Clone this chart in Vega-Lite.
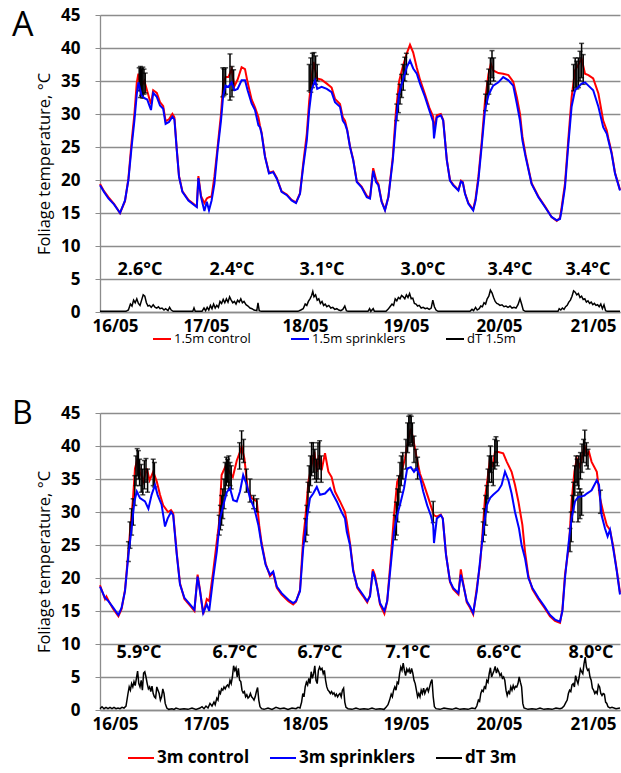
{
"$schema": "https://vega.github.io/schema/vega-lite/v6.json",
"padding": {"left": 12, "top": 6, "right": 0, "bottom": 30},
"config": {"view": {"stroke": null}, "font": "Open Sans", "axisY": {"labelOverlap": false, "tickCount": 10}},
"spacing": 52,
"resolve": {"scale": {"color": "independent"}, "legend": {"color": "independent"}},
"datasets": {
"ac": [{"t":0,"v":19.4},{"t":1,"v":18.3},{"t":2.1,"v":17.4},{"t":3.5,"v":16.4},{"t":5,"v":15.0},{"t":6.25,"v":16.8},{"t":7.1,"v":20.2},{"t":7.9,"v":25.8},{"t":8.6,"v":30},{"t":9.2,"v":34.8},{"t":9.6,"v":36.1},{"t":10.0,"v":34.5},{"t":10.4,"v":34.3},{"t":11.1,"v":35.0},{"t":11.8,"v":33.5},{"t":12.4,"v":32.2},{"t":12.75,"v":31.5},{"t":13.3,"v":33.6},{"t":14.2,"v":33.2},{"t":15,"v":31.8},{"t":15.8,"v":31.2},{"t":16.4,"v":28.9},{"t":17.25,"v":29.2},{"t":18.1,"v":30},{"t":18.6,"v":29.5},{"t":19.2,"v":24.6},{"t":19.75,"v":20.6},{"t":20.6,"v":18.3},{"t":22.1,"v":17},{"t":23.75,"v":16.2},{"t":24.2,"v":16.0},{"t":24.6,"v":20.6},{"t":25.25,"v":17.6},{"t":26.1,"v":16.5},{"t":26.7,"v":17.2},{"t":27.25,"v":17.4},{"t":27.9,"v":17.5},{"t":28.6,"v":20.5},{"t":29.4,"v":25},{"t":30.25,"v":30},{"t":30.8,"v":34.6},{"t":31.4,"v":35.6},{"t":32.1,"v":35.6},{"t":32.9,"v":36.8},{"t":33.6,"v":34.2},{"t":34.4,"v":35.2},{"t":35.4,"v":37.1},{"t":36.25,"v":36.8},{"t":36.9,"v":34.8},{"t":37.9,"v":32.2},{"t":38.75,"v":31},{"t":39.6,"v":29.5},{"t":40.0,"v":28.2},{"t":40.4,"v":27.2},{"t":41.25,"v":23.6},{"t":42.25,"v":21.1},{"t":43.3,"v":21.3},{"t":44.2,"v":20.3},{"t":45.4,"v":18.3},{"t":46.7,"v":17.8},{"t":47.9,"v":17.0},{"t":49,"v":16.6},{"t":50,"v":18},{"t":50.8,"v":22.5},{"t":51.7,"v":27},{"t":52.3,"v":32},{"t":52.9,"v":35.5},{"t":53.4,"v":37.9},{"t":53.75,"v":36.8},{"t":54.3,"v":35.4},{"t":55.4,"v":35.2},{"t":56.7,"v":34.6},{"t":57.9,"v":34},{"t":58.75,"v":32.3},{"t":60,"v":31.5},{"t":60.7,"v":29.5},{"t":61.25,"v":29},{"t":61.8,"v":27.6},{"t":62.5,"v":25.1},{"t":63.3,"v":23.1},{"t":64.2,"v":19.8},{"t":65.4,"v":19},{"t":66.7,"v":17.6},{"t":67.5,"v":17.3},{"t":68.3,"v":21.8},{"t":69,"v":20.1},{"t":69.6,"v":19.4},{"t":70.4,"v":16.8},{"t":71.25,"v":15.5},{"t":72.1,"v":17.5},{"t":73.2,"v":23.5},{"t":74,"v":30.5},{"t":74.8,"v":35},{"t":75.7,"v":37.2},{"t":76.7,"v":39.2},{"t":77.5,"v":40.5},{"t":78.3,"v":39.3},{"t":79.2,"v":37},{"t":80,"v":35.2},{"t":81.25,"v":33},{"t":82.3,"v":31},{"t":83.3,"v":29.6},{"t":83.5,"v":27.5},{"t":84.2,"v":29.8},{"t":85.2,"v":30},{"t":85.8,"v":29.1},{"t":86.7,"v":23.1},{"t":87.5,"v":20},{"t":88.3,"v":19.3},{"t":89.6,"v":18.5},{"t":90.25,"v":19.9},{"t":90.7,"v":19.7},{"t":91.25,"v":18},{"t":92.1,"v":16.5},{"t":93.3,"v":15.5},{"t":93.9,"v":17.2},{"t":94.6,"v":20.5},{"t":95.4,"v":25.6},{"t":96.25,"v":32},{"t":97.1,"v":36},{"t":97.7,"v":37.6},{"t":98.3,"v":36.6},{"t":99.6,"v":36.2},{"t":100.8,"v":36.1},{"t":102.1,"v":35.9},{"t":103.3,"v":34.9},{"t":104.2,"v":32.6},{"t":105,"v":30},{"t":105.6,"v":26.6},{"t":106.4,"v":23.8},{"t":107.9,"v":19.5},{"t":109.6,"v":17.5},{"t":111.25,"v":16},{"t":112.9,"v":14.4},{"t":114.2,"v":13.8},{"t":115,"v":14.3},{"t":115.4,"v":15.8},{"t":116.25,"v":19.5},{"t":117.1,"v":26.3},{"t":117.9,"v":32.5},{"t":118.75,"v":36.6},{"t":119.6,"v":37.5},{"t":120.4,"v":38.4},{"t":121.25,"v":36.1},{"t":122.1,"v":35.9},{"t":123.3,"v":35.4},{"t":124.6,"v":33.1},{"t":125.8,"v":29},{"t":126.7,"v":27.5},{"t":127.1,"v":26.3},{"t":127.9,"v":24.2},{"t":128.75,"v":21.1},{"t":130,"v":18.5}],
"as": [{"t":0,"v":19.2},{"t":1,"v":18.2},{"t":2.1,"v":17.2},{"t":3.5,"v":16.3},{"t":5,"v":15.0},{"t":6.25,"v":16.9},{"t":7.1,"v":20},{"t":7.9,"v":25},{"t":8.6,"v":29},{"t":9.2,"v":33},{"t":9.6,"v":34.8},{"t":10.4,"v":32.8},{"t":11.1,"v":32.4},{"t":11.8,"v":32.2},{"t":12.4,"v":31.2},{"t":12.75,"v":30.6},{"t":13.3,"v":33.2},{"t":14.2,"v":32.6},{"t":15,"v":31.3},{"t":15.8,"v":30.8},{"t":16.4,"v":28.5},{"t":17.25,"v":28.8},{"t":18.1,"v":29.6},{"t":18.6,"v":29.2},{"t":19.2,"v":24.5},{"t":19.75,"v":20.5},{"t":20.6,"v":18.2},{"t":22.1,"v":16.9},{"t":23.75,"v":16.1},{"t":24.2,"v":15.9},{"t":24.6,"v":20.3},{"t":25.25,"v":17.4},{"t":26.1,"v":15.3},{"t":26.7,"v":16.7},{"t":27.25,"v":15.4},{"t":27.9,"v":16.9},{"t":28.6,"v":19.4},{"t":29.4,"v":24.5},{"t":30.25,"v":29},{"t":30.8,"v":32.8},{"t":31.4,"v":34.3},{"t":32.1,"v":34.1},{"t":32.9,"v":34.8},{"t":33.6,"v":33.6},{"t":34.4,"v":33.8},{"t":35.4,"v":35.1},{"t":36.25,"v":35.1},{"t":36.9,"v":33.6},{"t":37.9,"v":31.6},{"t":38.75,"v":30.6},{"t":39.6,"v":28.3},{"t":40.0,"v":28},{"t":40.4,"v":27},{"t":41.25,"v":23.5},{"t":42.25,"v":21},{"t":43.3,"v":21.2},{"t":44.2,"v":20.2},{"t":45.4,"v":18.2},{"t":46.7,"v":17.7},{"t":47.9,"v":16.9},{"t":49,"v":16.5},{"t":50,"v":17.9},{"t":50.8,"v":22},{"t":51.7,"v":26},{"t":52.3,"v":30.6},{"t":52.9,"v":33.6},{"t":53.4,"v":34.5},{"t":53.75,"v":35.1},{"t":54.3,"v":33.8},{"t":55.4,"v":34.1},{"t":56.7,"v":33.8},{"t":57.9,"v":33.3},{"t":58.75,"v":31.8},{"t":60,"v":31.1},{"t":60.7,"v":29},{"t":61.25,"v":28.5},{"t":61.8,"v":27.5},{"t":62.5,"v":25},{"t":63.3,"v":23},{"t":64.2,"v":19.7},{"t":65.4,"v":18.9},{"t":66.7,"v":17.4},{"t":67.5,"v":17.2},{"t":68.3,"v":21.4},{"t":69,"v":19.7},{"t":69.6,"v":19.2},{"t":70.4,"v":16.7},{"t":71.25,"v":15.4},{"t":72.1,"v":17.4},{"t":73.2,"v":23},{"t":74,"v":29},{"t":74.8,"v":33.1},{"t":75.7,"v":35.1},{"t":76.7,"v":37.1},{"t":77.5,"v":38.1},{"t":78.3,"v":36.9},{"t":79.2,"v":36.1},{"t":80,"v":34.6},{"t":81.25,"v":32.6},{"t":82.3,"v":30.6},{"t":83.3,"v":28.8},{"t":83.5,"v":26.3},{"t":84.2,"v":29.5},{"t":85.2,"v":29.8},{"t":85.8,"v":29},{"t":86.7,"v":23},{"t":87.5,"v":19.9},{"t":88.3,"v":19.2},{"t":89.6,"v":18.4},{"t":90.25,"v":19.8},{"t":90.7,"v":19.6},{"t":91.25,"v":17.9},{"t":92.1,"v":16.4},{"t":93.3,"v":15.4},{"t":93.9,"v":16.9},{"t":94.6,"v":20},{"t":95.4,"v":25},{"t":96.25,"v":30.6},{"t":97.1,"v":32.8},{"t":97.7,"v":33.6},{"t":98.3,"v":34.3},{"t":99.6,"v":34.8},{"t":100.8,"v":35.6},{"t":102.1,"v":35.1},{"t":103.3,"v":34.3},{"t":104.2,"v":31.6},{"t":105,"v":29},{"t":105.6,"v":26},{"t":106.4,"v":23.5},{"t":107.9,"v":19.4},{"t":109.6,"v":17.4},{"t":111.25,"v":15.9},{"t":112.9,"v":14.4},{"t":114.2,"v":13.9},{"t":115,"v":14.1},{"t":115.4,"v":15.4},{"t":116.25,"v":18.9},{"t":117.1,"v":25.5},{"t":117.9,"v":31.1},{"t":118.75,"v":33.6},{"t":119.6,"v":34.1},{"t":120.4,"v":34.6},{"t":121.25,"v":34.8},{"t":122.1,"v":34.3},{"t":123.3,"v":33.6},{"t":124.6,"v":31.1},{"t":125.8,"v":28},{"t":126.7,"v":27},{"t":127.1,"v":26},{"t":127.9,"v":24},{"t":128.75,"v":21},{"t":130,"v":18.4}],
"ad": [{"t":0,"v":0.1},{"t":5,"v":0.1},{"t":6.5,"v":0.1},{"t":7.1,"v":0.3},{"t":7.6,"v":1.2},{"t":8.0,"v":0.9},{"t":8.4,"v":1.8},{"t":8.8,"v":1.4},{"t":9.2,"v":2.0},{"t":9.6,"v":1.3},{"t":10.0,"v":1.0},{"t":10.4,"v":1.8},{"t":10.8,"v":2.6},{"t":11.2,"v":2.4},{"t":11.6,"v":1.4},{"t":12.0,"v":0.9},{"t":12.4,"v":1.0},{"t":12.8,"v":0.7},{"t":13.3,"v":1.1},{"t":13.8,"v":0.7},{"t":14.2,"v":0.6},{"t":14.6,"v":0.8},{"t":15.0,"v":0.5},{"t":15.5,"v":0.6},{"t":16.0,"v":0.3},{"t":16.4,"v":0.5},{"t":17.0,"v":0.2},{"t":17.4,"v":0.7},{"t":17.8,"v":0.3},{"t":18.3,"v":0.1},{"t":23.2,"v":0.1},{"t":23.5,"v":0.6},{"t":23.8,"v":0.1},{"t":25.5,"v":0.1},{"t":26,"v":0.6},{"t":26.4,"v":0.2},{"t":26.8,"v":0.7},{"t":27.2,"v":0.3},{"t":27.6,"v":1.0},{"t":28,"v":0.5},{"t":28.4,"v":1.2},{"t":28.8,"v":0.6},{"t":29.2,"v":1.0},{"t":29.6,"v":0.7},{"t":30.0,"v":1.6},{"t":30.4,"v":1.3},{"t":30.8,"v":1.9},{"t":31.2,"v":1.4},{"t":31.6,"v":2.0},{"t":32.0,"v":1.5},{"t":32.4,"v":2.3},{"t":32.8,"v":1.8},{"t":33.2,"v":1.4},{"t":33.6,"v":1.6},{"t":34.0,"v":1.2},{"t":34.4,"v":1.8},{"t":34.8,"v":1.5},{"t":35.2,"v":2.0},{"t":35.6,"v":1.4},{"t":36.0,"v":1.6},{"t":36.5,"v":1.1},{"t":37.0,"v":0.9},{"t":37.5,"v":0.6},{"t":38.0,"v":0.5},{"t":38.5,"v":0.3},{"t":39.2,"v":0.2},{"t":39.5,"v":1.4},{"t":39.8,"v":0.2},{"t":40.3,"v":0.1},{"t":49.5,"v":0.1},{"t":50.2,"v":0.3},{"t":50.8,"v":0.5},{"t":51.3,"v":1.2},{"t":51.7,"v":1.0},{"t":52.1,"v":1.6},{"t":52.5,"v":2.0},{"t":52.9,"v":2.5},{"t":53.2,"v":3.1},{"t":53.5,"v":2.3},{"t":53.9,"v":2.6},{"t":54.3,"v":1.8},{"t":54.7,"v":2.0},{"t":55.1,"v":1.3},{"t":55.5,"v":1.6},{"t":55.9,"v":1.0},{"t":56.3,"v":1.2},{"t":56.7,"v":0.8},{"t":57.2,"v":1.0},{"t":57.7,"v":0.6},{"t":58.2,"v":0.7},{"t":58.7,"v":0.4},{"t":59.2,"v":0.5},{"t":59.7,"v":0.3},{"t":60.2,"v":0.2},{"t":60.7,"v":0.4},{"t":61.2,"v":0.9},{"t":61.6,"v":0.2},{"t":62,"v":0.1},{"t":67,"v":0.1},{"t":67.4,"v":0.5},{"t":67.7,"v":0.1},{"t":68.3,"v":0.5},{"t":68.6,"v":0.1},{"t":71.5,"v":0.1},{"t":72,"v":0.4},{"t":72.5,"v":0.8},{"t":73,"v":1.2},{"t":73.4,"v":1.0},{"t":73.8,"v":2.0},{"t":74.2,"v":1.7},{"t":74.6,"v":2.2},{"t":75.0,"v":2.0},{"t":75.4,"v":2.5},{"t":75.8,"v":2.3},{"t":76.2,"v":2.0},{"t":76.6,"v":2.6},{"t":77.0,"v":2.2},{"t":77.4,"v":2.8},{"t":77.8,"v":2.0},{"t":78.2,"v":2.1},{"t":78.6,"v":1.3},{"t":79.0,"v":1.2},{"t":79.4,"v":0.9},{"t":79.8,"v":1.0},{"t":80.3,"v":0.6},{"t":80.8,"v":0.7},{"t":81.3,"v":0.5},{"t":81.8,"v":0.6},{"t":82.3,"v":0.4},{"t":82.8,"v":0.6},{"t":83.2,"v":1.8},{"t":83.6,"v":0.8},{"t":84,"v":0.3},{"t":84.5,"v":0.1},{"t":92.5,"v":0.1},{"t":93,"v":0.4},{"t":93.4,"v":0.2},{"t":93.9,"v":0.7},{"t":94.3,"v":0.3},{"t":94.8,"v":0.5},{"t":95.2,"v":0.9},{"t":95.6,"v":0.8},{"t":96.0,"v":1.4},{"t":96.4,"v":1.2},{"t":96.8,"v":2.0},{"t":97.2,"v":2.4},{"t":97.6,"v":3.3},{"t":98.0,"v":2.9},{"t":98.4,"v":2.2},{"t":98.8,"v":1.6},{"t":99.2,"v":1.3},{"t":99.6,"v":1.2},{"t":100,"v":1.0},{"t":100.5,"v":1.1},{"t":101,"v":0.8},{"t":101.5,"v":0.9},{"t":102,"v":0.7},{"t":102.5,"v":0.9},{"t":103,"v":0.6},{"t":103.5,"v":0.7},{"t":104,"v":0.6},{"t":104.5,"v":1.1},{"t":105,"v":2.0},{"t":105.4,"v":1.2},{"t":105.8,"v":0.3},{"t":106.3,"v":0.1},{"t":114.5,"v":0.1},{"t":114.8,"v":0.5},{"t":115.2,"v":0.3},{"t":115.6,"v":0.6},{"t":116,"v":0.4},{"t":116.4,"v":0.8},{"t":116.8,"v":1.0},{"t":117.2,"v":1.5},{"t":117.6,"v":1.8},{"t":118,"v":2.4},{"t":118.4,"v":3.2},{"t":118.8,"v":3.0},{"t":119.2,"v":2.6},{"t":119.6,"v":2.8},{"t":120,"v":2.2},{"t":120.4,"v":2.4},{"t":120.8,"v":1.9},{"t":121.2,"v":2.0},{"t":121.6,"v":1.5},{"t":122,"v":1.7},{"t":122.4,"v":1.3},{"t":122.8,"v":1.5},{"t":123.2,"v":1.1},{"t":123.6,"v":1.3},{"t":124,"v":1.0},{"t":124.4,"v":1.1},{"t":124.8,"v":0.8},{"t":125.2,"v":1.2},{"t":125.6,"v":0.5},{"t":126,"v":1.1},{"t":126.4,"v":0.2},{"t":126.8,"v":0.1},{"t":130,"v":0.1}],
"ae": [{"t":9.8,"lo":33.5,"hi":37.0},{"t":10.1,"lo":32.5,"hi":37.2},{"t":10.4,"lo":32.8,"hi":36.9},{"t":10.7,"lo":32.4,"hi":37.1},{"t":11.0,"lo":33.0,"hi":36.8},{"t":11.3,"lo":33.2,"hi":36.2},{"t":30.7,"lo":32.6,"hi":37.0},{"t":31.0,"lo":32.8,"hi":36.8},{"t":31.4,"lo":33.0,"hi":37.0},{"t":32.5,"lo":32.1,"hi":39.1},{"t":33.0,"lo":32.6,"hi":37.2},{"t":33.4,"lo":33.6,"hi":36.7},{"t":52.3,"lo":33.5,"hi":37.5},{"t":52.7,"lo":33.3,"hi":38.5},{"t":53.1,"lo":34.0,"hi":39.2},{"t":53.5,"lo":35.0,"hi":39.3},{"t":53.9,"lo":34.5,"hi":38.8},{"t":54.3,"lo":35.0,"hi":37.5},{"t":74.2,"lo":29.0,"hi":31.5},{"t":74.6,"lo":30.2,"hi":33.0},{"t":75.0,"lo":31.5,"hi":34.5},{"t":75.4,"lo":32.5,"hi":36.0},{"t":75.8,"lo":33.6,"hi":37.5},{"t":76.2,"lo":35.0,"hi":38.6},{"t":76.6,"lo":36.0,"hi":39.2},{"t":96.4,"lo":30.5,"hi":33.0},{"t":96.8,"lo":31.5,"hi":35.0},{"t":97.2,"lo":33.0,"hi":36.8},{"t":97.6,"lo":34.5,"hi":38.5},{"t":98.0,"lo":35.5,"hi":39.6},{"t":98.4,"lo":35.0,"hi":38.5},{"t":118.4,"lo":33.5,"hi":37.5},{"t":118.8,"lo":34.0,"hi":38.5},{"t":119.2,"lo":33.8,"hi":38.0},{"t":119.6,"lo":34.0,"hi":38.5},{"t":120.0,"lo":35.0,"hi":39.5},{"t":120.4,"lo":35.5,"hi":40.7},{"t":120.8,"lo":34.5,"hi":39.0}],
"an": [{"t":10,"v":6.3,"l":"2.6°C"},{"t":33,"v":6.3,"l":"2.4°C"},{"t":55.5,"v":6.3,"l":"3.1°C"},{"t":80.75,"v":6.3,"l":"3.0°C"},{"t":102.5,"v":6.3,"l":"3.4°C"},{"t":122,"v":6.3,"l":"3.4°C"}],
"bc": [{"t":0,"v":18.9},{"t":1.25,"v":16.8},{"t":1.6,"v":17.2},{"t":2.1,"v":16.6},{"t":3.3,"v":15.3},{"t":4.6,"v":14.2},{"t":5.4,"v":15.3},{"t":6.25,"v":18.2},{"t":7.1,"v":24},{"t":7.5,"v":27},{"t":7.9,"v":29.5},{"t":8.3,"v":32.5},{"t":8.75,"v":36.6},{"t":9.4,"v":38.1},{"t":10.0,"v":36.1},{"t":10.8,"v":34.6},{"t":11.7,"v":36.6},{"t":12.4,"v":34.8},{"t":13.3,"v":36.1},{"t":14.2,"v":34.6},{"t":15.0,"v":32.6},{"t":15.8,"v":31.0},{"t":17.0,"v":30.0},{"t":17.75,"v":30.3},{"t":18.3,"v":29.8},{"t":19.2,"v":23.7},{"t":20,"v":19.2},{"t":21.1,"v":16.8},{"t":22.5,"v":15.8},{"t":23.6,"v":15.0},{"t":24.4,"v":20.5},{"t":25,"v":18.2},{"t":25.8,"v":14.5},{"t":26.7,"v":16.8},{"t":27.3,"v":16.5},{"t":28.3,"v":21},{"t":29.2,"v":25.5},{"t":29.8,"v":28.5},{"t":30.4,"v":35.6},{"t":31.5,"v":37.1},{"t":32.3,"v":36.1},{"t":33.2,"v":35.3},{"t":34.2,"v":37.8},{"t":35.0,"v":39.1},{"t":35.4,"v":39.9},{"t":36.1,"v":38.1},{"t":36.9,"v":33.6},{"t":37.9,"v":32.1},{"t":39.2,"v":31.6},{"t":39.8,"v":28},{"t":40.4,"v":25.3},{"t":41.4,"v":22.2},{"t":42.5,"v":20.3},{"t":43.3,"v":20.8},{"t":44.2,"v":18.5},{"t":45.4,"v":17.5},{"t":47.1,"v":16.5},{"t":48.3,"v":16.0},{"t":49,"v":16.4},{"t":50,"v":18.2},{"t":50.8,"v":26},{"t":51.25,"v":28.5},{"t":52.1,"v":34.6},{"t":52.9,"v":37.1},{"t":53.6,"v":39.1},{"t":54.2,"v":36.1},{"t":54.8,"v":38.6},{"t":55.4,"v":36.3},{"t":56.25,"v":38.9},{"t":57.1,"v":36.1},{"t":57.9,"v":35.3},{"t":58.75,"v":33.1},{"t":60,"v":31.6},{"t":61.25,"v":30},{"t":61.7,"v":28.5},{"t":62.5,"v":25.3},{"t":63.3,"v":21.3},{"t":64.3,"v":18.5},{"t":65.7,"v":17.3},{"t":66.8,"v":16.3},{"t":67.5,"v":17.4},{"t":68.2,"v":21.3},{"t":68.75,"v":20.4},{"t":69.3,"v":18.6},{"t":70,"v":16},{"t":71.1,"v":14.6},{"t":71.8,"v":16.5},{"t":72.7,"v":23},{"t":73.5,"v":29.5},{"t":74.3,"v":34.6},{"t":75.4,"v":36.1},{"t":76.25,"v":38.1},{"t":77.1,"v":41.1},{"t":77.7,"v":42.6},{"t":78.3,"v":41.1},{"t":79.2,"v":38.1},{"t":80,"v":35.8},{"t":81,"v":34.1},{"t":82.1,"v":32.1},{"t":83.2,"v":30},{"t":83.5,"v":29.5},{"t":84.2,"v":29.3},{"t":85.2,"v":29.6},{"t":85.7,"v":29},{"t":86.5,"v":23.6},{"t":87.5,"v":19.4},{"t":88.3,"v":18.3},{"t":89.6,"v":17.5},{"t":90.2,"v":21.3},{"t":90.8,"v":19.2},{"t":91.7,"v":16.3},{"t":92.5,"v":15.5},{"t":93.3,"v":14.5},{"t":94.2,"v":18.5},{"t":95.0,"v":22},{"t":95.4,"v":25},{"t":96.25,"v":32.1},{"t":96.9,"v":35.1},{"t":97.5,"v":38.1},{"t":98.1,"v":36.8},{"t":98.75,"v":39.1},{"t":99.6,"v":39.1},{"t":100.8,"v":38.9},{"t":101.7,"v":37.6},{"t":102.9,"v":36.1},{"t":103.75,"v":34.1},{"t":104.6,"v":31.6},{"t":105.6,"v":28},{"t":106.25,"v":24},{"t":107.1,"v":20.3},{"t":108.1,"v":18.3},{"t":109.6,"v":16.8},{"t":111.1,"v":15.5},{"t":112.5,"v":14.2},{"t":113.75,"v":13.5},{"t":115,"v":13.2},{"t":115.6,"v":15.2},{"t":116.25,"v":20.5},{"t":117.25,"v":25},{"t":117.9,"v":31.6},{"t":118.6,"v":36.1},{"t":119.2,"v":38.1},{"t":120,"v":36.8},{"t":120.6,"v":38.6},{"t":121.1,"v":40.1},{"t":121.7,"v":38.6},{"t":122.25,"v":39.1},{"t":122.9,"v":37.6},{"t":124.2,"v":36.1},{"t":125,"v":32.1},{"t":125.8,"v":30},{"t":126.7,"v":28},{"t":127.5,"v":27.3},{"t":128.3,"v":24.8},{"t":129.2,"v":21.2},{"t":130,"v":17.8}],
"bs": [{"t":0,"v":18.7},{"t":1.25,"v":17},{"t":2.1,"v":16.5},{"t":3.3,"v":15.5},{"t":4.6,"v":14.4},{"t":5.4,"v":15.5},{"t":6.25,"v":18},{"t":7.1,"v":23.5},{"t":7.9,"v":27.5},{"t":8.6,"v":31.6},{"t":9.2,"v":33.1},{"t":10,"v":32.1},{"t":11.25,"v":31.6},{"t":12.1,"v":30.5},{"t":12.9,"v":32.6},{"t":13.75,"v":34.1},{"t":14.4,"v":32.6},{"t":15.4,"v":31.1},{"t":16.25,"v":27.8},{"t":16.9,"v":29},{"t":17.75,"v":30},{"t":18.3,"v":29.5},{"t":19.2,"v":23.5},{"t":20,"v":19},{"t":21.1,"v":17},{"t":22.5,"v":16},{"t":23.6,"v":15.2},{"t":24.4,"v":20.2},{"t":25,"v":18},{"t":25.8,"v":14.7},{"t":26.7,"v":16},{"t":27.3,"v":15},{"t":28.3,"v":20},{"t":29.2,"v":24},{"t":30,"v":29},{"t":30.8,"v":31},{"t":31.7,"v":33},{"t":32.5,"v":33.6},{"t":33.3,"v":31.8},{"t":34.2,"v":31.6},{"t":35,"v":33.1},{"t":35.8,"v":35.6},{"t":36.7,"v":34.1},{"t":37.5,"v":32.1},{"t":38.6,"v":30.5},{"t":39.6,"v":28},{"t":40.4,"v":25},{"t":41.4,"v":22},{"t":42.5,"v":20.5},{"t":43.3,"v":21},{"t":44.2,"v":18.7},{"t":45.4,"v":17.7},{"t":47.1,"v":16.7},{"t":48.3,"v":16.2},{"t":49,"v":16.5},{"t":50,"v":18},{"t":50.8,"v":24.5},{"t":51.7,"v":29},{"t":52.5,"v":32.1},{"t":53.3,"v":32.8},{"t":54.2,"v":33.8},{"t":55,"v":32.6},{"t":56.25,"v":32.8},{"t":57.5,"v":33.6},{"t":58.3,"v":32.6},{"t":59.2,"v":31.6},{"t":60.4,"v":30},{"t":61.25,"v":29},{"t":61.7,"v":27},{"t":62.5,"v":25},{"t":63.3,"v":21},{"t":64.3,"v":18.7},{"t":65.7,"v":17.5},{"t":66.8,"v":16.5},{"t":67.5,"v":17.2},{"t":68.2,"v":21},{"t":68.75,"v":20},{"t":69.3,"v":18.5},{"t":70,"v":16.2},{"t":71.1,"v":15},{"t":71.8,"v":16.5},{"t":72.7,"v":22},{"t":73.5,"v":27},{"t":74.3,"v":29.5},{"t":75.2,"v":31.6},{"t":76,"v":33.6},{"t":76.8,"v":36.6},{"t":77.7,"v":36.8},{"t":78.5,"v":36.1},{"t":79.2,"v":36.6},{"t":80,"v":35.3},{"t":80.8,"v":33.1},{"t":81.8,"v":31},{"t":82.7,"v":29.5},{"t":83.3,"v":28},{"t":83.5,"v":25.3},{"t":84.2,"v":29},{"t":85.2,"v":29.5},{"t":85.7,"v":29},{"t":86.5,"v":23.5},{"t":87.5,"v":19.5},{"t":88.3,"v":18.5},{"t":89.6,"v":17.7},{"t":90.2,"v":20.5},{"t":90.8,"v":19},{"t":91.7,"v":16.5},{"t":92.5,"v":15.7},{"t":93.3,"v":14.7},{"t":94.2,"v":18},{"t":95,"v":22.5},{"t":95.8,"v":27},{"t":96.7,"v":31},{"t":97.5,"v":32.1},{"t":98.3,"v":32.6},{"t":99.6,"v":33.3},{"t":100.4,"v":34.1},{"t":101.25,"v":36.1},{"t":102.1,"v":34.8},{"t":102.9,"v":32.8},{"t":103.75,"v":30},{"t":104.75,"v":27.5},{"t":105.4,"v":25},{"t":106.25,"v":23},{"t":107.1,"v":20},{"t":108.1,"v":18.5},{"t":109.6,"v":17},{"t":111.1,"v":15.7},{"t":112.5,"v":14.4},{"t":113.75,"v":13.7},{"t":115,"v":13.4},{"t":115.6,"v":15},{"t":116.25,"v":20},{"t":117.1,"v":25},{"t":117.9,"v":29},{"t":118.75,"v":31.6},{"t":119.2,"v":32.0},{"t":119.6,"v":32.3},{"t":120.0,"v":32.3},{"t":120.6,"v":32.4},{"t":121.1,"v":32.5},{"t":121.7,"v":32.8},{"t":122.25,"v":33.0},{"t":122.9,"v":33.3},{"t":124.2,"v":34.8},{"t":124.75,"v":34.1},{"t":125.4,"v":29.5},{"t":126.25,"v":27.5},{"t":126.9,"v":26.3},{"t":127.5,"v":27.3},{"t":128.3,"v":24.5},{"t":129.2,"v":21},{"t":130,"v":17.5}],
"bd": [{"t":0,"v":0.2},{"t":0.5,"v":0.5},{"t":1,"v":0.2},{"t":1.5,"v":0.4},{"t":2,"v":0.2},{"t":2.5,"v":0.4},{"t":3,"v":0.2},{"t":3.5,"v":0.4},{"t":4,"v":0.2},{"t":4.5,"v":0.3},{"t":5,"v":0.2},{"t":5.5,"v":0.4},{"t":6,"v":0.3},{"t":6.5,"v":0.6},{"t":7.0,"v":2.5},{"t":7.3,"v":3.5},{"t":7.6,"v":3.0},{"t":7.9,"v":4.0},{"t":8.2,"v":3.5},{"t":8.5,"v":4.3},{"t":8.8,"v":3.7},{"t":9.1,"v":4.8},{"t":9.4,"v":5.9},{"t":9.7,"v":4.0},{"t":10.0,"v":3.5},{"t":10.3,"v":4.5},{"t":10.6,"v":3.0},{"t":10.9,"v":5.6},{"t":11.2,"v":5.8},{"t":11.5,"v":5.0},{"t":11.8,"v":4.0},{"t":12.1,"v":3.2},{"t":12.4,"v":3.5},{"t":12.7,"v":2.8},{"t":13.0,"v":3.6},{"t":13.3,"v":2.5},{"t":13.6,"v":2.0},{"t":13.9,"v":1.8},{"t":14.2,"v":3.5},{"t":14.5,"v":3.0},{"t":14.8,"v":2.5},{"t":15.1,"v":1.5},{"t":15.4,"v":2.0},{"t":15.7,"v":3.2},{"t":16.0,"v":2.5},{"t":16.3,"v":1.0},{"t":16.7,"v":0.3},{"t":17.2,"v":0.1},{"t":18,"v":0.2},{"t":18.5,"v":0.1},{"t":19,"v":0.3},{"t":20,"v":0.1},{"t":21,"v":0.2},{"t":22,"v":0.1},{"t":23,"v":0.3},{"t":24,"v":0.1},{"t":25,"v":0.3},{"t":25.5,"v":0.5},{"t":26,"v":0.2},{"t":26.5,"v":0.6},{"t":27,"v":0.3},{"t":27.5,"v":1.0},{"t":28,"v":0.6},{"t":28.5,"v":1.2},{"t":28.8,"v":0.8},{"t":29.2,"v":1.8},{"t":29.5,"v":1.5},{"t":29.8,"v":2.8},{"t":30.1,"v":2.5},{"t":30.4,"v":3.2},{"t":30.7,"v":3.0},{"t":31.0,"v":3.5},{"t":31.3,"v":3.2},{"t":31.6,"v":3.6},{"t":31.9,"v":3.8},{"t":32.2,"v":3.5},{"t":32.5,"v":4.5},{"t":32.8,"v":4.0},{"t":33.1,"v":5.0},{"t":33.4,"v":6.7},{"t":33.7,"v":6.0},{"t":34.0,"v":6.4},{"t":34.3,"v":5.0},{"t":34.6,"v":6.3},{"t":34.9,"v":4.5},{"t":35.2,"v":4.3},{"t":35.5,"v":3.0},{"t":35.8,"v":2.6},{"t":36.1,"v":2.8},{"t":36.4,"v":2.0},{"t":36.7,"v":2.3},{"t":37.0,"v":1.8},{"t":37.3,"v":2.0},{"t":37.6,"v":2.5},{"t":37.9,"v":2.0},{"t":38.2,"v":1.8},{"t":38.5,"v":1.5},{"t":38.8,"v":2.0},{"t":39.1,"v":2.8},{"t":39.4,"v":3.4},{"t":39.7,"v":1.5},{"t":40.0,"v":0.5},{"t":40.4,"v":0.2},{"t":41,"v":0.1},{"t":42,"v":0.3},{"t":43,"v":0.1},{"t":44,"v":0.4},{"t":45,"v":0.2},{"t":46,"v":0.3},{"t":47,"v":0.1},{"t":48,"v":0.3},{"t":49,"v":0.2},{"t":49.5,"v":0.4},{"t":50.0,"v":0.3},{"t":50.4,"v":1.2},{"t":50.7,"v":2.5},{"t":51.0,"v":2.0},{"t":51.3,"v":3.5},{"t":51.6,"v":4.2},{"t":51.9,"v":3.8},{"t":52.2,"v":4.8},{"t":52.5,"v":4.0},{"t":52.8,"v":5.8},{"t":53.1,"v":4.8},{"t":53.4,"v":5.5},{"t":53.7,"v":6.7},{"t":54.0,"v":4.5},{"t":54.3,"v":4.0},{"t":54.6,"v":6.0},{"t":54.9,"v":6.5},{"t":55.2,"v":6.1},{"t":55.5,"v":6.3},{"t":55.8,"v":5.5},{"t":56.1,"v":6.0},{"t":56.4,"v":4.5},{"t":56.7,"v":3.5},{"t":57.0,"v":3.0},{"t":57.3,"v":2.8},{"t":57.6,"v":2.5},{"t":57.9,"v":2.8},{"t":58.2,"v":2.4},{"t":58.5,"v":2.6},{"t":58.8,"v":2.1},{"t":59.1,"v":2.4},{"t":59.4,"v":2.0},{"t":59.7,"v":2.3},{"t":60.0,"v":2.5},{"t":60.3,"v":2.0},{"t":60.6,"v":3.0},{"t":60.9,"v":3.3},{"t":61.2,"v":1.2},{"t":61.5,"v":0.4},{"t":62,"v":0.2},{"t":63,"v":0.1},{"t":64,"v":0.3},{"t":65,"v":0.1},{"t":66,"v":0.2},{"t":67,"v":0.1},{"t":68,"v":0.3},{"t":69,"v":0.1},{"t":70,"v":0.2},{"t":71,"v":0.1},{"t":71.5,"v":0.4},{"t":72.0,"v":0.8},{"t":72.4,"v":1.5},{"t":72.8,"v":2.4},{"t":73.1,"v":2.0},{"t":73.4,"v":3.0},{"t":73.7,"v":3.5},{"t":74.0,"v":3.0},{"t":74.3,"v":4.2},{"t":74.6,"v":4.0},{"t":74.9,"v":5.5},{"t":75.2,"v":6.5},{"t":75.5,"v":6.0},{"t":75.8,"v":7.1},{"t":76.1,"v":6.0},{"t":76.4,"v":5.2},{"t":76.7,"v":6.2},{"t":77.0,"v":5.8},{"t":77.3,"v":6.2},{"t":77.6,"v":5.5},{"t":77.9,"v":6.3},{"t":78.2,"v":5.6},{"t":78.5,"v":4.5},{"t":78.8,"v":4.0},{"t":79.1,"v":3.0},{"t":79.4,"v":2.0},{"t":79.7,"v":2.5},{"t":80.0,"v":2.0},{"t":80.3,"v":3.0},{"t":80.6,"v":2.5},{"t":80.9,"v":3.3},{"t":81.2,"v":2.5},{"t":81.5,"v":3.0},{"t":81.8,"v":3.3},{"t":82.1,"v":2.8},{"t":82.4,"v":3.5},{"t":82.7,"v":4.2},{"t":83.0,"v":4.6},{"t":83.3,"v":2.0},{"t":83.6,"v":0.5},{"t":84,"v":0.2},{"t":85,"v":0.1},{"t":86,"v":0.3},{"t":87,"v":0.2},{"t":88,"v":0.1},{"t":89,"v":0.3},{"t":90,"v":0.1},{"t":91,"v":0.2},{"t":92,"v":0.1},{"t":93,"v":0.3},{"t":93.8,"v":0.2},{"t":94.2,"v":0.6},{"t":94.6,"v":1.5},{"t":94.9,"v":1.3},{"t":95.2,"v":2.5},{"t":95.5,"v":3.0},{"t":95.8,"v":2.8},{"t":96.1,"v":3.5},{"t":96.4,"v":3.3},{"t":96.7,"v":4.5},{"t":97.0,"v":4.2},{"t":97.3,"v":5.5},{"t":97.6,"v":6.4},{"t":97.9,"v":5.0},{"t":98.2,"v":5.5},{"t":98.5,"v":6.0},{"t":98.8,"v":6.6},{"t":99.1,"v":5.6},{"t":99.4,"v":6.2},{"t":99.7,"v":5.8},{"t":100.0,"v":5.2},{"t":100.3,"v":5.5},{"t":100.6,"v":4.8},{"t":100.9,"v":5.0},{"t":101.2,"v":4.5},{"t":101.5,"v":3.0},{"t":101.8,"v":2.2},{"t":102.1,"v":2.8},{"t":102.4,"v":2.5},{"t":102.7,"v":3.5},{"t":103.0,"v":3.0},{"t":103.3,"v":3.7},{"t":103.6,"v":3.2},{"t":103.9,"v":3.6},{"t":104.2,"v":3.5},{"t":104.5,"v":4.0},{"t":104.8,"v":5.0},{"t":105.1,"v":4.2},{"t":105.4,"v":3.5},{"t":105.7,"v":1.0},{"t":106,"v":0.3},{"t":107,"v":0.1},{"t":108,"v":0.2},{"t":109,"v":0.1},{"t":110,"v":0.3},{"t":111,"v":0.1},{"t":112,"v":0.2},{"t":113,"v":0.1},{"t":114,"v":0.3},{"t":115,"v":0.2},{"t":115.5,"v":0.3},{"t":116,"v":0.6},{"t":116.5,"v":1.2},{"t":116.8,"v":1.5},{"t":117.1,"v":2.5},{"t":117.4,"v":3.0},{"t":117.7,"v":2.8},{"t":118.0,"v":3.8},{"t":118.3,"v":4.0},{"t":118.6,"v":3.5},{"t":118.9,"v":5.2},{"t":119.2,"v":4.5},{"t":119.5,"v":4.0},{"t":119.8,"v":5.0},{"t":120.1,"v":6.2},{"t":120.4,"v":5.8},{"t":120.7,"v":5.5},{"t":121.0,"v":7.0},{"t":121.3,"v":8.0},{"t":121.6,"v":6.5},{"t":121.9,"v":6.0},{"t":122.2,"v":6.2},{"t":122.5,"v":5.0},{"t":122.8,"v":4.5},{"t":123.1,"v":3.3},{"t":123.4,"v":3.0},{"t":123.7,"v":2.5},{"t":124.0,"v":2.8},{"t":124.3,"v":2.5},{"t":124.6,"v":3.8},{"t":124.9,"v":3.5},{"t":125.2,"v":2.5},{"t":125.5,"v":2.2},{"t":125.8,"v":2.5},{"t":126.1,"v":2.4},{"t":126.4,"v":1.2},{"t":126.7,"v":1.0},{"t":127.0,"v":0.5},{"t":127.5,"v":0.3},{"t":128,"v":0.4},{"t":129,"v":0.2},{"t":130,"v":0.3}],
"be": [{"t":7.1,"lo":22.5,"hi":25.5},{"t":7.5,"lo":24.5,"hi":28.5},{"t":7.9,"lo":26.5,"hi":30.5},{"t":8.3,"lo":28,"hi":32},{"t":8.7,"lo":31,"hi":35.5},{"t":9.0,"lo":34,"hi":38.5},{"t":9.3,"lo":35.5,"hi":39.6},{"t":9.6,"lo":35,"hi":39.3},{"t":9.9,"lo":34,"hi":38},{"t":10.3,"lo":33,"hi":37.2},{"t":10.7,"lo":32.6,"hi":36.5},{"t":11.1,"lo":33.5,"hi":37.8},{"t":11.5,"lo":34.5,"hi":38.1},{"t":11.9,"lo":33,"hi":36.5},{"t":13.3,"lo":34,"hi":38.0},{"t":13.6,"lo":33.8,"hi":37.5},{"t":29.8,"lo":26.5,"hi":29.5},{"t":30.1,"lo":27.3,"hi":31},{"t":30.4,"lo":28,"hi":32.5},{"t":30.7,"lo":29,"hi":33.5},{"t":31.0,"lo":30.5,"hi":35},{"t":31.3,"lo":32.5,"hi":37.5},{"t":31.6,"lo":34,"hi":38.3},{"t":31.9,"lo":34.5,"hi":38},{"t":32.2,"lo":33.5,"hi":38.5},{"t":32.5,"lo":34,"hi":37.5},{"t":32.8,"lo":33.5,"hi":37},{"t":34.9,"lo":36.5,"hi":40.5},{"t":35.4,"lo":38,"hi":42.3},{"t":35.9,"lo":37.5,"hi":41},{"t":36.6,"lo":33,"hi":36.5},{"t":37.5,"lo":31.5,"hi":35},{"t":38.4,"lo":30.5,"hi":32.5},{"t":39.2,"lo":30,"hi":32},{"t":51.4,"lo":25.5,"hi":29},{"t":51.7,"lo":26.5,"hi":31},{"t":52.0,"lo":30,"hi":34.5},{"t":52.3,"lo":33,"hi":37},{"t":52.6,"lo":34,"hi":38.5},{"t":52.9,"lo":35.5,"hi":40.5},{"t":53.3,"lo":36,"hi":40.5},{"t":53.7,"lo":35,"hi":39.5},{"t":54.1,"lo":34.5,"hi":38},{"t":54.5,"lo":35,"hi":40.5},{"t":54.9,"lo":36.5,"hi":40.8},{"t":55.3,"lo":34.5,"hi":38.5},{"t":73.8,"lo":25.8,"hi":29.5},{"t":74.1,"lo":26.5,"hi":31.5},{"t":74.4,"lo":28.5,"hi":33.5},{"t":74.7,"lo":31,"hi":35.5},{"t":75.0,"lo":33,"hi":37.5},{"t":75.3,"lo":34,"hi":38.5},{"t":75.7,"lo":35,"hi":39},{"t":76.5,"lo":36.5,"hi":41},{"t":76.9,"lo":39,"hi":43.5},{"t":77.2,"lo":40,"hi":44.5},{"t":77.5,"lo":40.2,"hi":44.7},{"t":77.8,"lo":40.5,"hi":44.5},{"t":78.1,"lo":40,"hi":43.5},{"t":78.5,"lo":37.5,"hi":41.5},{"t":79.0,"lo":36.5,"hi":39.5},{"t":79.4,"lo":35,"hi":38.3},{"t":83.3,"lo":28.4,"hi":31.6},{"t":95.8,"lo":25.5,"hi":28.5},{"t":96.1,"lo":26.5,"hi":30.5},{"t":96.4,"lo":28,"hi":32.5},{"t":96.7,"lo":30,"hi":34},{"t":97.0,"lo":32,"hi":36.5},{"t":97.3,"lo":34.5,"hi":38.5},{"t":97.6,"lo":36,"hi":40},{"t":97.9,"lo":34.5,"hi":38.5},{"t":98.3,"lo":34,"hi":37.5},{"t":98.7,"lo":36.5,"hi":41},{"t":99.0,"lo":37.5,"hi":41.4},{"t":99.3,"lo":37,"hi":40.8},{"t":117.5,"lo":24,"hi":27.5},{"t":117.8,"lo":25.5,"hi":30},{"t":118.1,"lo":28.5,"hi":32.5},{"t":118.4,"lo":30,"hi":34.5},{"t":118.7,"lo":32.5,"hi":37},{"t":119.0,"lo":34.5,"hi":38.5},{"t":119.3,"lo":34,"hi":38},{"t":119.5,"lo":28.5,"hi":33},{"t":119.7,"lo":33.5,"hi":38.5},{"t":120.0,"lo":29,"hi":33.5},{"t":120.1,"lo":35,"hi":39},{"t":120.4,"lo":29.5,"hi":33},{"t":120.5,"lo":36,"hi":40.3},{"t":120.9,"lo":37.5,"hi":41},{"t":121.2,"lo":38.5,"hi":42.4},{"t":121.6,"lo":37,"hi":40.5},{"t":122.0,"lo":36.5,"hi":39.5},{"t":125.1,"lo":29.8,"hi":33.3}],
"bn": [{"t":9.75,"v":8.7,"l":"5.9°C"},{"t":33.75,"v":8.7,"l":"6.7°C"},{"t":55,"v":8.7,"l":"6.7°C"},{"t":77,"v":8.7,"l":"7.1°C"},{"t":99.75,"v":8.7,"l":"6.6°C"},{"t":122.75,"v":8.7,"l":"8.0°C"}]
},
"vconcat": [
{
"width": 520, "height": 297,
"title": {"text": "A", "anchor": "start", "frame": "group", "fontSize": 34, "font": "Open Sans", "fontWeight": "normal", "color": "#000", "dx": -88, "dy": 37, "offset": 0},
"layer": [
{"data": {"name": "ac"}, "mark": {"type": "line", "strokeWidth": 2},
 "encoding": {
  "x": {"field": "t", "type": "quantitative", "scale": {"domain": [0, 130], "nice": false, "zero": false},
   "axis": {"title": null, "values": [3.75, 26.5, 51.25, 76.5, 99.75, 123.25], "labelExpr": "datum.value < 10 ? '16/05' : datum.value < 40 ? '17/05' : datum.value < 60 ? '18/05' : datum.value < 90 ? '19/05' : datum.value < 110 ? '20/05' : '21/05'", "ticks": false, "grid": false, "domainColor": "#8c8c8c", "domainWidth": 1.3, "labelFont": "Open Sans", "labelFontWeight": "bold", "labelFontSize": 17, "labelColor": "#000", "labelPadding": 6, "labelFlush": false, "labelOverlap": false}},
  "y": {"field": "v", "type": "quantitative", "scale": {"domain": [0, 45], "nice": false},
   "axis": {"title": "Foliage temperature, °C", "values": [0,5,10,15,20,25,30,35,40,45], "labelOverlap": false, "grid": true, "gridColor": "#8c8c8c", "gridWidth": 1.3, "domainColor": "#8c8c8c", "domainWidth": 1.3, "tickColor": "#8c8c8c", "tickSize": 5, "labelFont": "Open Sans", "labelFontWeight": "bold", "labelFontSize": 17, "labelColor": "#000", "labelPadding": 15, "titleFont": "Open Sans", "titleFontWeight": "normal", "titleFontSize": 16.5, "titleColor": "#000", "titlePadding": 8}},
  "color": {"datum": "1.5m control", "type": "nominal",
   "scale": {"domain": ["1.5m control", "1.5m sprinklers", "dT 1.5m"], "range": ["#ff0000", "#0000ff", "#000000"]},
   "legend": {"orient": "none", "legendX": 52, "legendY": 314, "direction": "horizontal", "title": null, "symbolType": "stroke", "symbolSize": 324, "symbolStrokeWidth": 2, "labelFont": "Open Sans", "labelFontSize": 13, "labelColor": "#000", "labelOffset": 2, "columnPadding": 36, "padding": 0}}
 }},
{"data": {"name": "ae"}, "mark": {"type": "errorbar", "color": "#000", "ticks": {"size": 5, "thickness": 1.5}, "rule": {"strokeWidth": 1.5}},
 "encoding": {"x": {"field": "t", "type": "quantitative"}, "y": {"field": "lo", "type": "quantitative", "title": "Foliage temperature, °C", "axis": {"values": [0,5,10,15,20,25,30,35,40,45], "labelOverlap": false}}, "y2": {"field": "hi"}}},
{"data": {"name": "as"}, "mark": {"type": "line", "strokeWidth": 2},
 "encoding": {"x": {"field": "t", "type": "quantitative"}, "y": {"field": "v", "type": "quantitative"}, "color": {"datum": "1.5m sprinklers", "type": "nominal"}}},
{"data": {"name": "ad"}, "mark": {"type": "line", "strokeWidth": 1.5},
 "encoding": {"x": {"field": "t", "type": "quantitative"}, "y": {"field": "v", "type": "quantitative"}, "color": {"datum": "dT 1.5m", "type": "nominal"}}},
{"data": {"name": "an"}, "mark": {"type": "text", "font": "Open Sans", "fontSize": 18, "fontWeight": "bold", "color": "#000"},
 "encoding": {"x": {"field": "t", "type": "quantitative"}, "y": {"field": "v", "type": "quantitative"}, "text": {"field": "l"}}}
]
},
{
"width": 520, "height": 297,
"title": {"text": "B", "anchor": "start", "frame": "group", "fontSize": 32, "font": "Open Sans", "fontWeight": "normal", "color": "#000", "dx": -88, "dy": 27, "offset": 0},
"layer": [
{"data": {"name": "bc"}, "mark": {"type": "line", "strokeWidth": 2},
 "encoding": {
  "x": {"field": "t", "type": "quantitative", "scale": {"domain": [0, 130], "nice": false, "zero": false},
   "axis": {"title": null, "values": [3.75, 26.5, 51.25, 76.5, 99.75, 123.25], "labelExpr": "datum.value < 10 ? '16/05' : datum.value < 40 ? '17/05' : datum.value < 60 ? '18/05' : datum.value < 90 ? '19/05' : datum.value < 110 ? '20/05' : '21/05'", "ticks": false, "grid": false, "domainColor": "#8c8c8c", "domainWidth": 1.3, "labelFont": "Open Sans", "labelFontWeight": "bold", "labelFontSize": 17, "labelColor": "#000", "labelPadding": 6, "labelFlush": false, "labelOverlap": false}},
  "y": {"field": "v", "type": "quantitative", "scale": {"domain": [0, 45], "nice": false},
   "axis": {"title": "Foliage temperature, °C", "values": [0,5,10,15,20,25,30,35,40,45], "labelOverlap": false, "grid": true, "gridColor": "#8c8c8c", "gridWidth": 1.3, "domainColor": "#8c8c8c", "domainWidth": 1.3, "tickColor": "#8c8c8c", "tickSize": 5, "labelFont": "Open Sans", "labelFontWeight": "bold", "labelFontSize": 17, "labelColor": "#000", "labelPadding": 15, "titleFont": "Open Sans", "titleFontWeight": "normal", "titleFontSize": 16.5, "titleColor": "#000", "titlePadding": 8}},
  "color": {"datum": "3m control", "type": "nominal",
   "scale": {"domain": ["3m control", "3m sprinklers", "dT 3m"], "range": ["#ff0000", "#0000ff", "#000000"]},
   "legend": {"orient": "none", "legendX": 27, "legendY": 331, "direction": "horizontal", "title": null, "symbolType": "stroke", "symbolSize": 676, "symbolStrokeWidth": 2, "labelFont": "Open Sans", "labelFontSize": 17, "labelFontWeight": "bold", "labelColor": "#000", "labelOffset": 2, "columnPadding": 16, "padding": 0}}
 }},
{"data": {"name": "be"}, "mark": {"type": "errorbar", "color": "#000", "ticks": {"size": 5, "thickness": 1.5}, "rule": {"strokeWidth": 1.5}},
 "encoding": {"x": {"field": "t", "type": "quantitative"}, "y": {"field": "lo", "type": "quantitative", "title": "Foliage temperature, °C", "axis": {"values": [0,5,10,15,20,25,30,35,40,45], "labelOverlap": false}}, "y2": {"field": "hi"}}},
{"data": {"name": "bs"}, "mark": {"type": "line", "strokeWidth": 2},
 "encoding": {"x": {"field": "t", "type": "quantitative"}, "y": {"field": "v", "type": "quantitative"}, "color": {"datum": "3m sprinklers", "type": "nominal"}}},
{"data": {"name": "bd"}, "mark": {"type": "line", "strokeWidth": 1.5},
 "encoding": {"x": {"field": "t", "type": "quantitative"}, "y": {"field": "v", "type": "quantitative"}, "color": {"datum": "dT 3m", "type": "nominal"}}},
{"data": {"name": "bn"}, "mark": {"type": "text", "font": "Open Sans", "fontSize": 18, "fontWeight": "bold", "color": "#000"},
 "encoding": {"x": {"field": "t", "type": "quantitative"}, "y": {"field": "v", "type": "quantitative"}, "text": {"field": "l"}}}
]
}
]
}
